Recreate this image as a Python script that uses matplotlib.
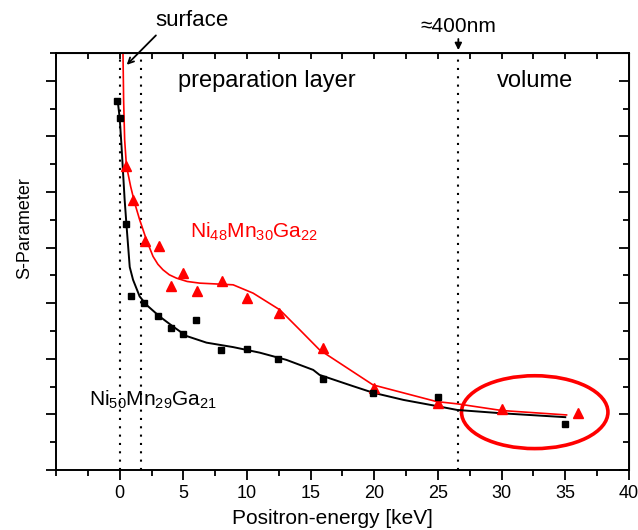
import matplotlib.pyplot as plt
from matplotlib.patches import Ellipse
from matplotlib.ticker import MultipleLocator

plt.rcParams['font.family'] = ['Liberation Sans', 'DejaVu Sans']
plt.rcParams['mathtext.default'] = 'regular'

# measured points, Ni50Mn29Ga21 (black squares)
e_ni50 = [-0.2, 0.0, 0.5, 0.9, 1.9, 3.0, 4.0, 5.0, 6.0, 7.95, 10.0, 12.45, 16.0, 19.9, 25.0, 35.0]
s_ni50 = [6.64, 6.33, 4.42, 3.13, 3.0, 2.77, 2.56, 2.44, 2.70, 2.16, 2.17, 1.99, 1.64, 1.39, 1.32, 0.83]

# measured points, Ni48Mn30Ga22 (red triangles)
e_ni48 = [0.53, 1.05, 2.0, 3.1, 4.05, 4.98, 6.08, 8.07, 10.0, 12.5, 16.0, 20.0, 25.0, 30.0, 36.0]
s_ni48 = [5.47, 4.86, 4.11, 4.03, 3.31, 3.55, 3.22, 3.40, 3.09, 2.82, 2.19, 1.48, 1.20, 1.09, 1.03]

# fitted curves
fit_e_black = [-0.16, 0.0, 0.13, 0.39, 0.53, 0.79, 1.05, 1.57, 2.1, 3.14, 4.19, 5.24, 6.82,
               8.91, 11.0, 13.1, 15.2, 15.7, 18.3, 19.9, 22.3, 24.9, 26.5, 30.0, 35.0]
fit_s_black = [6.65, 6.33, 5.88, 4.86, 4.42, 3.65, 3.42, 3.12, 2.97, 2.76, 2.58, 2.41, 2.29,
               2.21, 2.11, 1.98, 1.80, 1.71, 1.51, 1.39, 1.26, 1.15, 1.08, 1.02, 0.95]
fit_e_red = [0.24, 0.26, 0.31, 0.39, 0.53, 0.86, 1.18, 1.57, 2.1, 2.62, 3.0, 3.4, 3.9, 4.46,
             5.3, 6.29, 8.91, 10.48, 12.58, 14.15, 15.7, 19.9, 24.9, 26.5, 30.0, 35.1]
fit_s_red = [7.8, 7.5, 6.65, 5.94, 5.47, 5.10, 4.80, 4.50, 4.14, 3.84, 3.70, 3.60, 3.51, 3.45,
             3.39, 3.36, 3.33, 3.18, 2.88, 2.52, 2.16, 1.53, 1.23, 1.19, 1.07, 0.99]

# boundaries: surface, end of surface region, ~400 nm
borders = [0.0, 1.7, 26.6]

# highlighted "volume" region
ell_center = (32.6, 1.04)
ell_w, ell_h = 11.5, 1.31

fig = plt.figure(figsize=(6.38, 5.30), dpi=100)
ax = fig.add_axes([0.0878, 0.1132, 0.898, 0.787])

for b in borders:
    ax.axvline(b, color='black', linestyle=(0, (1, 3)), lw=1.5)

ax.plot(fit_e_red, fit_s_red, color='red', lw=1.2)
ax.plot(fit_e_black, fit_s_black, color='black', lw=1.4)
ax.plot(e_ni48, s_ni48, '^', color='red', ms=7, mec='red')
ax.plot(e_ni50, s_ni50, 's', color='black', ms=5)

ax.add_patch(Ellipse(ell_center, ell_w, ell_h, fill=False, ec='red', lw=2.6))

ax.set_xlim(-5, 40)
ax.set_ylim(0, 7.5)
ax.xaxis.set_major_locator(MultipleLocator(5))
ax.xaxis.set_minor_locator(MultipleLocator(2.5))
ax.yaxis.set_major_locator(MultipleLocator(1))
ax.yaxis.set_minor_locator(MultipleLocator(0.5))
ax.set_xticks([0, 5, 10, 15, 20, 25, 30, 35, 40])
ax.tick_params(which='major', direction='out', length=7, width=1.3, labelsize=13)
ax.tick_params(which='minor', direction='out', length=4, width=1.3)
ax.tick_params(axis='y', which='both', labelleft=False)
for sp in ax.spines.values():
    sp.set_linewidth(1.4)

top = ax.secondary_xaxis('top')
top.xaxis.set_major_locator(MultipleLocator(2.5))
top.tick_params(direction='in', length=4, width=1.3, labeltop=False)
right = ax.secondary_yaxis('right')
right.yaxis.set_major_locator(MultipleLocator(1))
right.yaxis.set_minor_locator(MultipleLocator(0.5))
right.tick_params(which='major', direction='in', length=7, width=1.3, labelright=False)
right.tick_params(which='minor', direction='in', length=4, width=1.3)

ax.set_xlabel('Positron-energy [keV]', fontsize=15)
ax.xaxis.set_label_coords(0.483, -0.093)
ax.set_ylabel('S-Parameter', fontsize=13)
ax.yaxis.set_label_coords(-0.04, 0.58)

ax.text(4.55, 6.89, 'preparation layer', fontsize=17)
ax.text(32.6, 6.89, 'volume', fontsize=17, ha='center')
ax.text(5.5, 4.17, r'Ni$_{48}$Mn$_{30}$Ga$_{22}$', fontsize=15, color='red')
ax.text(-2.4, 1.15, r'Ni$_{50}$Mn$_{29}$Ga$_{21}$', fontsize=15, color='black')

ax.text(5.7, 7.98, 'surface', fontsize=16, ha='center', clip_on=False)
ax.annotate('', xy=(0.4, 7.25), xytext=(3.0, 7.85), annotation_clip=False,
            arrowprops=dict(arrowstyle='->', color='black', lw=1.3))
ax.text(26.6, 7.88, '≈400nm', fontsize=15, ha='center', clip_on=False)
ax.annotate('', xy=(26.6, 7.5), xytext=(26.6, 7.8), annotation_clip=False,
            arrowprops=dict(arrowstyle='-|>', color='black', lw=1.3))

fig.savefig('out.png', dpi=100)
